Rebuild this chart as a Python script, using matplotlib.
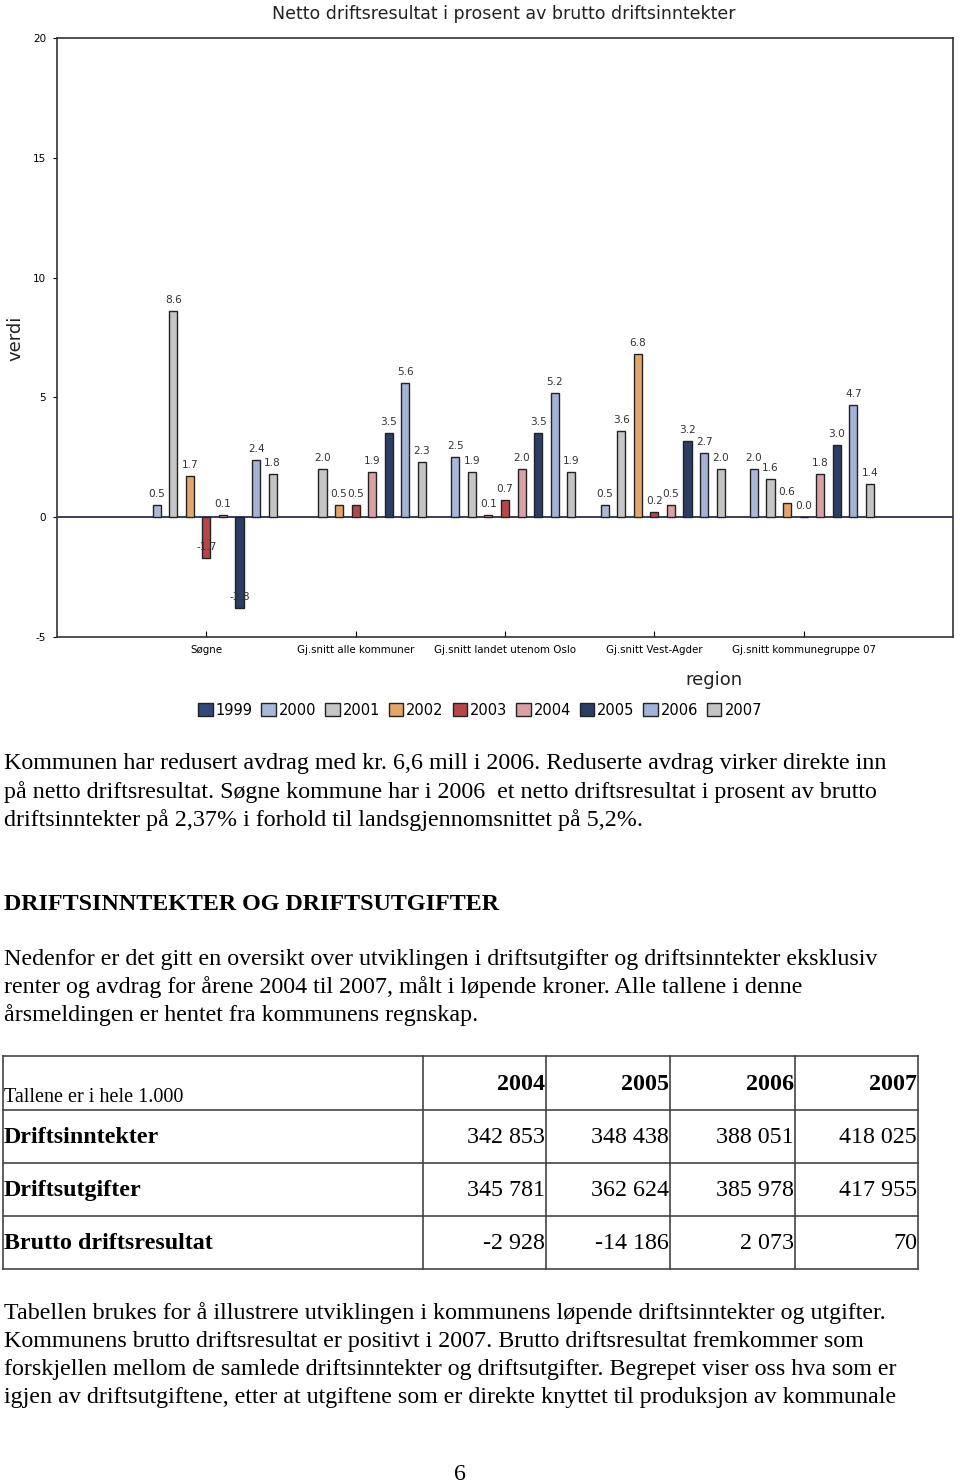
import numpy as np
import matplotlib
matplotlib.use('Agg')
import matplotlib.pyplot as plt
from matplotlib.patches import Patch

nan = np.nan

# chart data
regions = ['Søgne', 'Gj.snitt alle kommuner', 'Gj.snitt landet utenom Oslo',
           'Gj.snitt Vest-Agder', 'Gj.snitt kommunegruppe 07']
years = ['1999', '2000', '2001', '2002', '2003', '2004', '2005', '2006', '2007']
v1999 = [nan, nan, nan, nan, nan]
v2000 = [0.5, nan, 2.5, 0.5, 2.0]
v2001 = [8.6, 2.0, 1.9, 3.6, 1.6]
v2002 = [1.7, 0.5, 0.1, 6.8, 0.6]
v2003 = [-1.7, 0.5, 0.7, 0.2, 0.0]
v2004 = [0.1, 1.9, 2.0, 0.5, 1.8]
v2005 = [-3.8, 3.5, 3.5, 3.2, 3.0]
v2006 = [2.4, 5.6, 5.2, 2.7, 4.7]
v2007 = [1.8, 2.3, 1.9, 2.0, 1.4]
series = [v1999, v2000, v2001, v2002, v2003, v2004, v2005, v2006, v2007]
colors = ['#34477a', '#a9b8d8', '#c6c6c6', '#e3a66a', '#b5474b',
          '#d9a0a6', '#2c3d66', '#a3b2d6', '#c4c4c4']

# table data
tab_years = ['2004', '2005', '2006', '2007']
tab_rows = ['Driftsinntekter', 'Driftsutgifter', 'Brutto driftsresultat']
inntekter = [342853, 348438, 388051, 418025]
utgifter = [345781, 362624, 385978, 417955]
brutto = [-2928, -14186, 2073, 70]

W, H = 960, 1483
fig = plt.figure(figsize=(W / 100, H / 100), dpi=100)

ax = fig.add_axes([57 / W, 1 - 637 / H, 896 / W, 599 / H])
x = np.arange(1, len(regions) + 1)
step = 1 / 9
width = 0.054
for i, (vals, c) in enumerate(zip(series, colors)):
    xs = x + (i - 4) * step
    vals = np.array(vals, dtype=float)
    ax.bar(xs, vals, width, color=c, edgecolor='#222222', linewidth=1.0, zorder=3)
    for xx, v in zip(xs, vals):
        if np.isnan(v):
            continue
        # labels sit just above the bar end, also for negative bars (overlapping them)
        ax.text(xx, v + 0.25, f'{v:.1f}', ha='center', va='bottom', fontsize=7.6,
                color='#333333', zorder=4)

ax.axhline(0, color='#2a2f55', linewidth=1.3, zorder=2)
ax.set_xlim(0, 6)
ax.set_ylim(-5, 20)
ax.set_yticks([-5, 0, 5, 10, 15, 20])
ax.set_yticklabels(['-5', '0', '5', '10', '15', '20'], fontsize=7.5)
ax.set_xticks(x)
ax.set_xticklabels(regions, fontsize=7.4)
ax.tick_params(axis='x', direction='in', length=4, pad=6)
ax.tick_params(axis='y', direction='out', length=3, pad=5)
for s in ax.spines.values():
    s.set_color('#333333')
    s.set_linewidth(1.2)

# chart texts
fig.text(504 / W, 1 - 14 / H, 'Netto driftsresultat i prosent av brutto driftsinntekter',
         ha='center', va='center', fontsize=12.5, color='#222222')
fig.text(15 / W, 1 - 338 / H, 'verdi', rotation=90, ha='center', va='center',
         fontsize=13, color='#222222')
fig.text(714 / W, 1 - 680 / H, 'region', ha='center', va='center', fontsize=13, color='#222222')

handles = [Patch(facecolor=c, edgecolor='#222222', linewidth=1.0) for c in colors]
fig.legend(handles, years, loc='center', bbox_to_anchor=(480 / W, 1 - 710 / H), ncol=9,
           frameon=False, fontsize=10.5, handlelength=1.0, handleheight=1.0,
           handletextpad=0.2, columnspacing=0.6)

# page overlay in pixel coordinates
pg = fig.add_axes([0, 0, 1, 1], zorder=-1)
pg.set_xlim(0, W)
pg.set_ylim(H, 0)
pg.axis('off')

serif = 'Liberation Serif'
fs = 17.3


def line(y, s, bold=False):
    pg.text(4, y, s, ha='left', va='center', fontsize=fs, family=serif,
            fontweight='bold' if bold else 'normal')


line(764, 'Kommunen har redusert avdrag med kr. 6,6 mill i 2006. Reduserte avdrag virker direkte inn')
line(792, 'på netto driftsresultat. Søgne kommune har i 2006  et netto driftsresultat i prosent av brutto')
line(820, 'driftsinntekter på 2,37% i forhold til landsgjennomsnittet på 5,2%.')
line(904, 'DRIFTSINNTEKTER OG DRIFTSUTGIFTER', bold=True)
line(959, 'Nedenfor er det gitt en oversikt over utviklingen i driftsutgifter og driftsinntekter eksklusiv')
line(987, 'renter og avdrag for årene 2004 til 2007, målt i løpende kroner. Alle tallene i denne')
line(1015, 'årsmeldingen er hentet fra kommunens regnskap.')

# table
rows_y = [1056, 1110, 1163, 1216, 1269]
cols_x = [3, 423, 546, 670, 795, 918]
for yy in rows_y:
    pg.plot([cols_x[0], cols_x[-1]], [yy, yy], color='#444444', lw=1.2)
for xx in cols_x:
    pg.plot([xx, xx], [rows_y[0], rows_y[-1]], color='#444444', lw=1.2)

pg.text(4, 1098, 'Tallene er i hele 1.000', ha='left', va='center', fontsize=14.5, family=serif)
for j, yr in enumerate(tab_years):
    pg.text(cols_x[j + 2] - 1, 1084, yr, ha='right', va='center', fontsize=fs,
            family=serif, fontweight='bold')
for r, (name, vals) in enumerate(zip(tab_rows, [inntekter, utgifter, brutto])):
    yc = (rows_y[r + 1] + rows_y[r + 2]) / 2 + 1
    pg.text(4, yc, name, ha='left', va='center', fontsize=fs, family=serif, fontweight='bold')
    for j, v in enumerate(vals):
        pg.text(cols_x[j + 2] - 1, yc, f'{v:,}'.replace(',', ' '), ha='right', va='center',
                fontsize=fs, family=serif)

line(1313, 'Tabellen brukes for å illustrere utviklingen i kommunens løpende driftsinntekter og utgifter.')
line(1341, 'Kommunens brutto driftsresultat er positivt i 2007. Brutto driftsresultat fremkommer som')
line(1369, 'forskjellen mellom de samlede driftsinntekter og driftsutgifter. Begrepet viser oss hva som er')
line(1397, 'igjen av driftsutgiftene, etter at utgiftene som er direkte knyttet til produksjon av kommunale')
pg.text(460, 1474, '6', ha='center', va='center', fontsize=fs, family=serif)

fig.savefig('out.png', dpi=100)
